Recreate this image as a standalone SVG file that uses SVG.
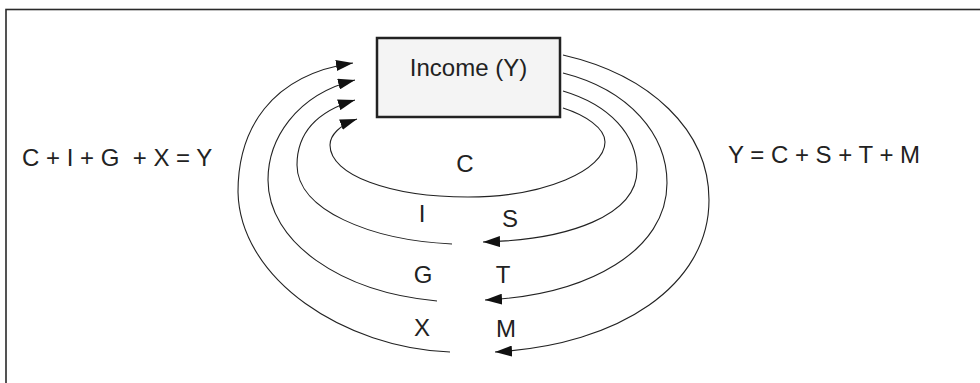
<svg xmlns="http://www.w3.org/2000/svg" width="980" height="383" viewBox="0 0 980 383">
<style>
text{font-family:"Liberation Sans",Arial,sans-serif;font-size:24px;fill:#222}
.flow{fill:none;stroke:#222;stroke-width:1.1}
.mid{text-anchor:middle}
</style>
<defs>
<marker id="ah" viewBox="0 0 17 11" markerUnits="userSpaceOnUse" markerWidth="17" markerHeight="11" refX="17" refY="5.5" orient="auto">
<path d="M0,0 L17,5.5 L0,11 z" fill="#111"/>
</marker>
</defs>
<rect x="0" y="0" width="980" height="383" fill="#fff"/>
<rect id="frame" x="6" y="9.5" width="1000" height="420" fill="none" stroke="#2a2a2a" stroke-width="1.6"/>
<g id="connectors">
<path id="flow-C" class="flow" marker-end="url(#ah)" d="M563,108 C585,115 605,128 605,142 C605,170 545,197 468,197 C390,197 330,175 330,145 C330,135 340,125 357,119"/>
<path id="flow-S" class="flow" marker-end="url(#ah)" d="M563,91 C610,105 637,135 637,170 C637,215 570,240 483,242"/>
<path id="flow-T" class="flow" marker-end="url(#ah)" d="M563,73 C630,90 667,135 667,183 C667,250 590,295 485,300"/>
<path id="flow-M" class="flow" marker-end="url(#ah)" d="M563,55 C650,75 709,130 709,200 C709,285 620,345 495,352"/>
<path id="flow-I" class="flow" marker-end="url(#ah)" d="M452,244 C370,240 297,210 297,165 C297,135 315,112 355,100"/>
<path id="flow-G" class="flow" marker-end="url(#ah)" d="M437,301 C340,292 268,242 268,180 C268,140 295,95 355,80"/>
<path id="flow-X" class="flow" marker-end="url(#ah)" d="M450,352 C345,348 240,280 238,192 C238,130 270,75 353,63"/>
</g>
<g id="income">
<rect x="377" y="38" width="183" height="79" fill="#f4f4f4" stroke="#222" stroke-width="2.5"/>
<text class="mid" x="468.5" y="76">Income (Y)</text>
</g>
<g id="eq-left"><text x="22" y="166" xml:space="preserve">C + I + G  + X = Y</text></g>
<g id="eq-right"><text x="728" y="163">Y = C + S + T + M</text></g>
<g id="label-C"><text class="mid" x="465" y="172">C</text></g>
<g id="label-I"><text class="mid" x="422" y="222">I</text></g>
<g id="label-S"><text class="mid" x="510" y="227">S</text></g>
<g id="label-G"><text class="mid" x="423" y="283">G</text></g>
<g id="label-T"><text class="mid" x="503" y="283">T</text></g>
<g id="label-X"><text class="mid" x="422" y="336">X</text></g>
<g id="label-M"><text class="mid" x="506" y="337">M</text></g>
</svg>
